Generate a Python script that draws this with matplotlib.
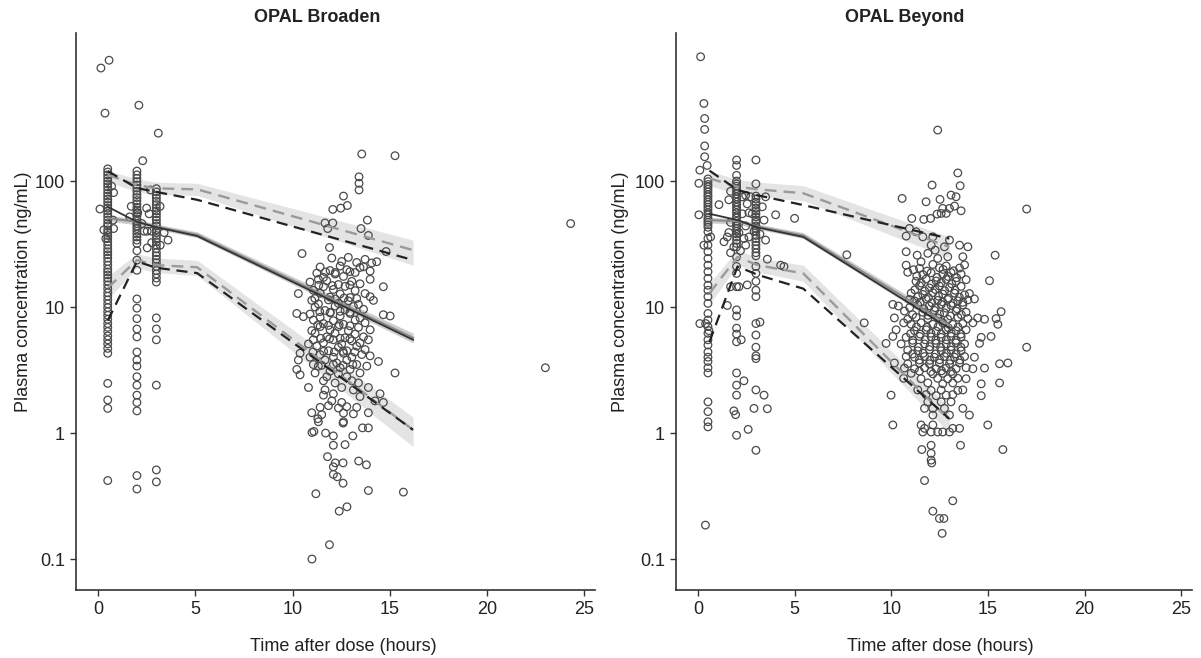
import numpy as np
import matplotlib
matplotlib.use("Agg")
import matplotlib.pyplot as plt

plt.rcParams['font.family'] = ['Liberation Sans', 'DejaVu Sans']

# ---------------- OPAL Broaden : observed concentrations ----------------
bro_col_t = [0.5, 2.0, 3.0]
bro_col05 = [125, 118, 112, 106, 100, 95, 90, 85, 80, 76, 72, 68, 64, 61, 58, 55,
             52, 49, 46, 44, 41, 39, 37, 35, 33, 31, 29, 27.5, 26, 24.5, 23, 21.5,
             20, 19, 18, 17, 16, 15, 14, 13, 12.2, 11.4, 10.6, 9.9, 9.2, 8.6, 8.0,
             7.4, 6.9, 6.4, 5.9, 5.5, 5.1, 4.7, 4.3, 2.48, 1.83, 1.57, 0.42]
bro_col2 = [120, 112, 105, 99, 93, 88, 83, 78, 74, 70, 66, 62, 59, 56, 53, 50, 48,
            46, 44, 42, 40, 38, 36, 34, 32, 28, 23.6, 19.6, 11.6, 9.8, 8.1, 6.7,
            5.8, 4.4, 3.8, 3.4, 2.8, 2.4, 2.0, 1.75, 1.5, 0.46, 0.36]
bro_col3 = [87, 82, 77, 73, 69, 65, 61, 58, 55, 52, 49, 46, 44, 41, 39, 37, 35, 33,
            31, 29, 27, 25.5, 24, 22.5, 21, 19.5, 18.3, 17, 15.8, 8.2, 6.7, 5.5,
            2.4, 0.51, 0.41]
bro_extra_t = [0.15, 0.57, 0.36, 0.1, 0.7, 0.77, 0.3, 0.8, 0.8, 0.4, 2.1, 2.3,
               1.71, 1.63, 2.26, 2.37, 2.04, 2.5, 2.53, 3.1, 3.4, 3.6, 2.7, 2.63,
               3.19, 2.76, 2.53, 2.76, 3.2, 24.3, 23.0]
bro_extra_c = [789, 910, 346, 60, 91, 49, 41, 81, 42, 35, 400, 145,
               63, 52, 46, 40, 56, 61, 40, 240, 39, 34, 85, 55,
               63, 40, 29.5, 32.5, 31, 46, 3.3]
# cloud around 10-16 h: (times, concentrations) per row
bro_cloud_rows = [
    ([13.56, 15.27, 13.42, 13.42, 13.42, 12.62, 12.82, 12.48, 12.07, 13.85],
     [164, 159, 108, 96, 85, 76, 64, 61, 59.6, 49]),
    ([11.67, 12.07, 11.81, 13.52, 13.9, 11.9, 14.81, 10.49, 14.33, 13.65],
     [46.5, 46.5, 42, 42, 37, 29.7, 27.6, 26.6, 22.9, 20.9]),
    ([11.33, 13.99, 10.9, 14.67, 10.3], [16.6, 16.6, 15.8, 14.5, 12.8]),
    ([12.02, 12.53, 12.87, 13.30, 13.73, 14.07], [24.5, 23.0, 24.8, 22.6, 23.9, 22.4]),
    ([11.42, 11.93, 12.45, 12.79, 13.47, 13.99], [20.8, 19.5, 21.2, 19.8, 20.6, 19.3]),
    ([11.7, 12.2, 12.95], [19.0, 18.8, 19.1]),
    ([11.25, 11.59, 12.19, 12.62, 13.22], [18.6, 17.2, 18.3, 17.5, 18.8]),
    ([11.76, 12.36, 13.05, 13.47], [16.2, 15.1, 16.0, 15.3]),
    ([11.35, 12.05, 12.95], [14.9, 14.8, 15.0]),
    ([11.07, 11.59, 12.10, 12.70, 13.22], [13.6, 14.5, 13.8, 14.6, 13.5]),
    ([11.42, 11.93, 12.45, 12.96, 13.73, 13.99], [12.9, 12.0, 12.7, 11.9, 12.8, 12.1]),
    ([11.15, 12.2, 12.65, 13.3], [11.7, 11.6, 11.8, 11.7]),
    ([10.99, 11.33, 11.85, 12.36, 12.87, 13.39, 14.16],
     [11.3, 10.6, 11.4, 10.7, 11.2, 10.5, 11.3]),
    ([11.16, 11.67, 12.19, 12.70, 13.13, 13.65], [10.0, 9.4, 10.2, 9.5, 10.1, 9.6]),
    ([11.4, 11.95, 12.45, 12.95], [9.2, 9.1, 9.25, 9.1]),
    ([10.22, 10.56, 10.90, 11.42, 11.93, 12.45, 12.96, 13.47, 14.67, 15.02],
     [8.9, 8.4, 8.8, 8.3, 9.0, 8.5, 8.9, 8.2, 8.7, 8.5]),
    ([11.07, 11.59, 12.10, 12.62, 13.22, 13.73], [7.9, 7.4, 7.8, 7.3, 7.9, 7.5]),
    ([11.3, 11.85, 12.4, 12.95], [7.2, 7.15, 7.25, 7.1]),
    ([10.99, 11.42, 11.93, 12.36, 12.87, 13.39, 13.99],
     [6.5, 7.0, 6.6, 7.0, 6.5, 6.9, 6.6]),
    ([11.16, 11.76, 12.19, 12.70, 13.22, 13.65], [6.2, 5.8, 6.2, 5.7, 6.1, 5.8]),
    ([11.45, 11.9, 12.45, 12.95], [5.65, 5.6, 5.65, 5.6]),
    ([10.82, 11.07, 11.59, 12.10, 12.53, 13.05, 13.47, 13.90],
     [5.1, 5.5, 5.2, 5.5, 5.1, 5.4, 5.2, 5.5]),
    ([11.25, 11.85, 12.36, 12.79, 13.30, 13.73], [4.9, 4.5, 4.8, 4.5, 4.9, 4.6]),
    ([11.05, 11.6, 12.15, 12.6, 13.2], [4.4, 4.45, 4.4, 4.45, 4.4]),
    ([10.39, 10.90, 11.42, 12.10, 12.62, 13.05, 13.56, 13.99],
     [4.3, 4.0, 4.2, 4.0, 4.3, 4.0, 4.2, 4.1]),
    ([10.30, 11.07, 11.67, 12.27, 12.79, 13.30, 14.42],
     [3.8, 3.5, 3.8, 3.6, 3.8, 3.5, 3.7]),
    ([11.5, 12.1, 12.6, 13.1], [3.45, 3.5, 3.45, 3.5]),
    ([10.22, 11.33, 11.93, 12.45, 12.96, 13.82], [3.2, 3.4, 3.1, 3.3, 3.2, 3.4]),
    ([10.39, 11.16, 11.76, 12.36, 12.79, 13.47, 15.27],
     [2.9, 3.0, 2.8, 2.95, 2.8, 3.0, 3.0]),
    ([11.59, 12.19, 13.05, 13.39], [2.6, 2.5, 2.6, 2.5]),
    ([10.82, 11.67, 12.53, 13.13, 13.90], [2.3, 2.2, 2.3, 2.2, 2.3]),
    ([11.59, 12.10, 13.47, 14.50], [2.0, 2.05, 1.95, 2.05]),
    ([12.02, 12.53, 14.24, 14.67], [1.8, 1.75, 1.8, 1.75]),
    ([11.42, 11.85, 12.36, 12.79, 13.30], [1.6, 1.65, 1.58, 1.62, 1.6]),
    ([10.99, 11.50, 12.62, 13.13, 13.90], [1.45, 1.4, 1.44, 1.42, 1.45]),
    ([11.33, 12.62, 11.3, 12.6, 13.6, 13.9, 11.0, 11.1, 11.7, 12.1, 13.1],
     [1.23, 1.23, 1.3, 1.2, 1.1, 1.1, 1.01, 1.03, 1.0, 0.95, 0.95]),
    ([12.1, 12.7, 11.8, 12.2, 12.6, 13.4, 13.8, 12.1, 12.1, 12.3, 12.6],
     [0.8, 0.81, 0.65, 0.58, 0.58, 0.6, 0.56, 0.54, 0.47, 0.45, 0.40]),
    ([11.2, 13.9, 15.7, 12.8, 12.4, 11.9, 11.0],
     [0.33, 0.35, 0.34, 0.26, 0.24, 0.13, 0.10]),
]

# ---------------- OPAL Broaden : VPC percentiles ----------------
bro_bin_t = [0.5, 2.0, 3.0, 5.1, 16.2]
bro_obs_med = [62.5, 47.5, 43.0, 36.6, 5.5]
bro_obs_p95 = [120, 88, 82, 71, 23.6]
bro_obs_p05 = [7.8, 23.0, 20.5, 18.6, 1.06]
bro_sim_med = [50.8, 47.5, 43.5, 37.5, 5.7]
bro_sim_med_lo = [48.0, 45.0, 41.5, 35.5, 5.2]
bro_sim_med_hi = [53.5, 50.0, 45.5, 39.5, 6.2]
bro_sim_p95 = [112, 93, 87.5, 86, 28.3]
bro_sim_p95_lo = [99, 82, 78, 77, 21.5]
bro_sim_p95_hi = [121, 104, 98, 96, 34]
bro_sim_p05 = [14.2, 23.6, 21.5, 20.7, 1.06]
bro_sim_p05_lo = [11.5, 20.5, 18.8, 17.8, 0.78]
bro_sim_p05_hi = [17.5, 26.5, 24.5, 23.5, 1.34]

# ---------------- OPAL Beyond : observed concentrations ----------------
bey_col_t = [0.52, 2.0, 3.0]
bey_col05 = [104, 99, 94, 90, 86, 82, 78, 75, 71, 68, 65, 62, 59, 56, 54, 51, 49,
             47, 45, 43, 39.6, 35.1, 31.0, 27.5, 24.3, 21.5, 19.1, 16.9, 14.9,
             13.6, 12.1, 10.7, 8.9, 7.9, 7.0, 6.2, 5.5, 5.0, 4.4, 4.0, 3.7, 3.3,
             3.0, 1.77, 1.48, 1.23, 1.12]
bey_col2 = [147, 133, 111, 100, 95, 91, 87, 83, 79, 75, 72, 68, 65, 62, 59, 56, 53,
            51, 48, 46, 44, 42, 40, 38, 36, 34, 32, 30, 25, 21, 18.5, 14.5, 9.5,
            8.5, 6.8, 6.1, 5.3, 3.0, 2.4, 2.0, 0.96]
bey_col3 = [147, 95, 76, 72, 68, 65, 61, 58, 55, 52, 49, 47, 44, 42, 40, 37, 35,
            33, 31, 29, 27, 25.5, 21, 18.5, 16, 13.6, 12.1, 7.4, 6.0, 4.8, 4.1,
            3.9, 2.2, 0.73]
bey_extra_t = [0.14, 0.31, 0.35, 0.35, 0.35, 0.35, 0.48, 0.10, 0.05, 0.05, 1.09,
               0.31, 0.66, 0.10, 0.40, 0.57, 0.39,
               1.69, 1.6, 2.47, 2.55, 2.29, 1.69, 2.47, 2.12, 1.6, 2.64, 1.35,
               1.52, 1.86, 2.47, 1.69, 2.2, 2.38, 2.64, 2.29, 1.69, 2.12, 2.55,
               1.52, 2.24, 2.38, 1.86, 1.95, 2.6, 2.9, 3.42, 3.59,
               3.5, 4.02, 3.59, 4.28, 3.42, 3.33, 3.5, 3.21, 2.81, 2.73, 2.9, 3.21,
               5.0, 4.45, 7.7, 8.6, 17.0, 17.0]
bey_extra_c = [970, 413, 314, 257, 190, 156, 133, 122, 96, 54, 65,
               31, 36, 7.4, 7.4, 6.5, 0.186,
               83, 71, 77, 66, 55, 47, 44, 39, 39, 36, 33,
               36, 30, 31, 27, 28, 35, 56, 75, 14.5, 14.5, 15,
               10.3, 5.5, 2.6, 1.5, 1.4, 1.07, 1.57, 2.0, 1.56,
               34, 54, 24, 21.5, 49, 62.5, 75, 38, 55, 75, 40, 7.6,
               50.6, 21, 26, 7.5, 60, 4.8]
bey_cloud_rows = [
    ([12.40, 13.44, 12.11, 13.56, 10.56, 11.80, 12.52, 13.09, 13.35, 12.66, 13.01],
     [254, 116, 93, 91.8, 72.8, 68.5, 71.5, 77.4, 75.1, 60.7, 60.7]),
    ([13.27, 13.61, 12.37, 12.58, 12.84, 11.06, 12.03, 11.68, 10.94, 11.28, 10.77],
     [63.3, 58.1, 54.7, 55.4, 55.4, 50.5, 50.5, 49.6, 42.1, 39.6, 36.6]),
    ([11.63, 12.15, 13.01, 12.06, 13.53, 12.75, 13.96, 10.77, 11.34, 15.37, 11.89],
     [36.1, 36.1, 34.0, 31.0, 31.0, 30.1, 30.1, 27.5, 25.8, 25.8, 26.7]),
    ([12.27, 12.40, 12.92, 13.70, 11.54], [28.3, 24.3, 25.1, 25.1, 22.9]),
    ([10.77, 11.46, 12.15, 12.49, 12.84, 13.53, 13.79],
     [21.5, 20.3, 21.8, 20.5, 21.2, 20.4, 21.6]),
    ([11.15, 11.85, 12.68, 13.22], [19.8, 19.3, 19.9, 19.4]),
    ([10.85, 11.63, 12.06, 12.66, 13.09, 13.61], [18.9, 18.1, 18.7, 18.2, 18.8, 18.3]),
    ([11.32, 12.36, 12.93, 13.38], [17.6, 17.2, 17.5, 17.1]),
    ([11.28, 11.80, 12.32, 12.84, 13.35, 13.87, 15.08],
     [16.0, 16.7, 16.1, 16.6, 16.0, 16.5, 16.2]),
    ([11.55, 12.08, 12.58, 13.12], [15.5, 15.2, 15.6, 15.3]),
    ([11.46, 11.97, 12.49, 13.01, 13.61], [14.8, 14.2, 14.7, 14.3, 14.6]),
    ([11.22, 11.73, 12.27, 12.76, 13.30], [13.7, 13.4, 13.8, 13.5, 13.6]),
    ([11.03, 11.63, 12.15, 12.66, 13.27, 13.79, 14.04],
     [12.9, 12.6, 13.0, 12.7, 12.9, 12.5, 12.8]),
    ([11.38, 11.92, 12.44, 12.96, 13.52], [12.1, 11.9, 12.2, 11.8, 12.0]),
    ([10.94, 11.20, 11.80, 12.40, 12.92, 13.44, 13.96, 14.30],
     [11.5, 11.2, 11.6, 11.3, 11.5, 11.2, 11.4, 11.6]),
    ([11.5, 12.1, 12.65, 13.2, 13.7], [10.9, 10.8, 11.0, 10.7, 10.9]),
    ([10.08, 10.37, 11.37, 11.97, 12.58, 13.09, 13.70],
     [10.5, 10.2, 10.4, 10.2, 10.5, 10.3, 10.4]),
    ([10.95, 11.68, 12.28, 12.84, 13.4], [9.9, 9.7, 9.9, 9.8, 9.7]),
    ([10.68, 11.63, 12.23, 12.75, 13.35, 13.87, 15.68],
     [9.3, 9.1, 9.4, 9.0, 9.3, 9.1, 9.2]),
    ([11.1, 11.9, 12.5, 13.05, 13.62], [8.7, 8.6, 8.8, 8.5, 8.7]),
    ([10.16, 10.85, 11.28, 11.89, 12.40, 12.92, 13.44, 13.96, 14.47, 14.82, 15.42],
     [8.2, 8.0, 8.3, 8.1, 8.2, 8.0, 8.3, 8.1, 8.2, 8.0, 8.1]),
    ([10.64, 11.03, 11.54, 12.15, 12.66, 13.18, 13.70, 14.22, 15.51],
     [7.5, 7.3, 7.5, 7.3, 7.5, 7.3, 7.4, 7.5, 7.3]),
    ([11.3, 11.85, 12.42, 12.95, 13.45], [6.95, 6.9, 7.0, 6.85, 6.95]),
    ([10.25, 11.20, 11.80, 12.32, 12.84, 13.35, 13.87],
     [6.6, 6.5, 6.6, 6.45, 6.6, 6.5, 6.6]),
    ([11.0, 11.5, 12.05, 12.58, 13.1, 13.6], [6.15, 6.1, 6.2, 6.1, 6.2, 6.1]),
    ([10.08, 10.77, 11.46, 12.06, 12.58, 13.09, 13.61, 14.65, 15.16],
     [5.85, 5.75, 5.85, 5.8, 5.75, 5.85, 5.8, 5.75, 5.85]),
    ([11.1, 11.75, 12.3, 12.85, 13.35], [5.45, 5.5, 5.45, 5.5, 5.45]),
    ([9.73, 10.51, 11.11, 11.72, 12.32, 12.84, 13.35, 13.79, 14.56],
     [5.15, 5.1, 5.2, 5.1, 5.15, 5.1, 5.2, 5.1, 5.15]),
    ([11.4, 12.0, 12.55, 13.1, 13.6], [4.8, 4.85, 4.8, 4.85, 4.8]),
    ([10.85, 11.37, 11.97, 12.58, 13.09, 13.61], [4.55, 4.5, 4.6, 4.5, 4.55, 4.5]),
    ([11.1, 11.65, 12.3, 12.85, 13.35], [4.25, 4.3, 4.25, 4.3, 4.25]),
    ([10.77, 11.20, 11.72, 12.23, 12.75, 13.27, 13.79, 14.30],
     [4.05, 4.0, 4.05, 4.0, 4.05, 4.0, 4.05, 4.0]),
    ([11.45, 12.0, 12.5, 13.05, 13.55], [3.8, 3.78, 3.82, 3.78, 3.8]),
    ([10.16, 10.85, 11.46, 11.97, 12.49, 13.01, 13.53, 15.60, 16.03],
     [3.6, 3.55, 3.6, 3.55, 3.6, 3.55, 3.6, 3.55, 3.6]),
    ([10.68, 11.20, 11.72, 12.32, 12.84, 13.35, 13.87, 14.22, 14.82],
     [3.28, 3.24, 3.3, 3.24, 3.28, 3.24, 3.3, 3.24, 3.28]),
    ([11.45, 12.05, 12.6, 13.1], [3.1, 3.08, 3.12, 3.08]),
    ([11.03, 12.15, 12.66, 13.18], [2.98, 2.95, 2.98, 2.95]),
    ([10.64, 11.54, 12.40, 12.92, 13.44, 13.87], [2.72, 2.7, 2.72, 2.7, 2.72, 2.7]),
    ([11.89, 12.66, 13.18, 14.65, 15.60], [2.5, 2.46, 2.5, 2.46, 2.5]),
    ([11.37, 12.06, 12.58, 13.44, 13.70], [2.2, 2.18, 2.2, 2.18, 2.2]),
    ([9.99, 11.80, 12.32, 12.84, 13.18, 14.65], [2.0, 2.02, 1.98, 2.0, 2.02, 1.98]),
    ([11.89, 12.58, 13.09, 11.72, 12.15, 12.75, 13.70],
     [1.77, 1.77, 1.77, 1.57, 1.57, 1.57, 1.57]),
    ([12.15, 13.01, 14.04, 10.08, 11.54, 12.15, 14.99, 11.72, 13.18, 13.53],
     [1.39, 1.39, 1.39, 1.16, 1.16, 1.16, 1.16, 1.09, 1.09, 1.09]),
    ([11.63, 12.06, 12.40, 12.66, 13.01, 12.06, 13.58, 11.58, 15.77, 12.06],
     [1.02, 1.02, 1.02, 1.02, 1.02, 0.80, 0.80, 0.74, 0.74, 0.69]),
    ([12.06, 12.09, 11.72, 13.18, 12.15, 12.49, 12.72, 12.63],
     [0.61, 0.58, 0.42, 0.29, 0.24, 0.21, 0.21, 0.16]),
]

# ---------------- OPAL Beyond : VPC percentiles ----------------
bey_bin_t = [0.6, 2.05, 3.1, 5.45, 13.0]
bey_obs_med = [55, 49, 42.8, 36, 6.8]
bey_obs_p95 = [121, 85, 77, 64.5, 35]
bey_obs_p05 = [5.3, 21, 18, 14, 1.3]
bey_sim_med = [49, 48, 43.5, 37, 7.2]
bey_sim_med_lo = [46.5, 45.5, 41.5, 35, 6.6]
bey_sim_med_hi = [51.5, 50.5, 45.5, 39, 7.8]
bey_sim_p95 = [105, 90, 86, 80, 30]
bey_sim_p95_lo = [92, 78, 75, 70, 24.5]
bey_sim_p95_hi = [120, 103, 98, 92, 36]
bey_sim_p05 = [12.9, 25, 21.5, 18.5, 1.27]
bey_sim_p05_lo = [10.5, 21.5, 19, 16, 1.0]
bey_sim_p05_hi = [15.5, 28.5, 24.5, 21.5, 1.6]


def panel_points(col_t, cols, extra_t, extra_c, rows):
    t, c = [], []
    for tt, vals in zip(col_t, cols):
        t += [tt] * len(vals)
        c += list(vals)
    t += list(extra_t)
    c += list(extra_c)
    for times, concs in rows:
        t += list(times)
        c += list(concs)
    return np.array(t), np.array(c)


def draw_panel(ax, title, title_x, t, c, bins, obs, sim, bands):
    band_col = '#e4e4e4'
    ax.fill_between(bins, bands[0], bands[1], color=band_col, lw=0, zorder=1)
    ax.fill_between(bins, bands[4], bands[5], color=band_col, lw=0, zorder=1)
    ax.fill_between(bins, bands[2], bands[3], color='#cdcdcd', lw=0, zorder=1)

    ax.scatter(t, c, s=30, facecolors='none', edgecolors='#4a4a4a',
               linewidths=0.9, zorder=2)

    # simulated percentiles (grey)
    ax.plot(bins, sim[0], color='#9a9a9a', lw=1.7, dashes=(5, 3), zorder=3)
    ax.plot(bins, sim[1], color='#8a8a8a', lw=1.5, zorder=3)
    ax.plot(bins, sim[2], color='#9a9a9a', lw=1.7, dashes=(5, 3), zorder=3)
    # observed percentiles (black)
    ax.plot(bins, obs[0], color='#222222', lw=1.6, dashes=(5, 3), zorder=4)
    ax.plot(bins, obs[1], color='#333333', lw=1.3, zorder=4)
    ax.plot(bins, obs[2], color='#222222', lw=1.6, dashes=(5, 3), zorder=4)

    ax.set_yscale('log')
    ax.set_ylim(0.0568, 1496)
    ax.set_xlim(-1.13, 25.55)
    ax.set_yticks([0.1, 1, 10, 100])
    ax.set_yticklabels(['0.1', '1', '10', '100'])
    ax.yaxis.set_minor_locator(matplotlib.ticker.NullLocator())
    ax.set_xticks([0, 5, 10, 15, 20, 25])
    for s in ['top', 'right']:
        ax.spines[s].set_visible(False)
    for s in ['left', 'bottom']:
        ax.spines[s].set_linewidth(1.2)
        ax.spines[s].set_color('#333333')
    ax.tick_params(direction='out', length=4, width=1, colors='#333333',
                   labelsize=13, labelcolor='#222222', pad=4)
    ax.set_xlabel('Time after dose (hours)', fontsize=13, color='#222222')
    ax.set_ylabel('Plasma concentration (ng/mL)', fontsize=13, color='#222222')
    ax.text(title_x, 1.027, title, transform=ax.transAxes, ha='center',
            va='center', fontsize=13, fontweight='bold', color='#222222')


fig = plt.figure(figsize=(12.01, 6.58), dpi=100)
ax1 = fig.add_axes([0.0633, 0.1033, 0.4321, 0.8465])
ax2 = fig.add_axes([0.5629, 0.1033, 0.4296, 0.8465])

t1, c1 = panel_points(bro_col_t, [bro_col05, bro_col2, bro_col3],
                      bro_extra_t, bro_extra_c, bro_cloud_rows)
draw_panel(ax1, 'OPAL Broaden', 0.464, t1, c1, bro_bin_t,
           [bro_obs_p95, bro_obs_med, bro_obs_p05],
           [bro_sim_p95, bro_sim_med, bro_sim_p05],
           [bro_sim_p95_lo, bro_sim_p95_hi, bro_sim_med_lo, bro_sim_med_hi,
            bro_sim_p05_lo, bro_sim_p05_hi])

t2, c2 = panel_points(bey_col_t, [bey_col05, bey_col2, bey_col3],
                      bey_extra_t, bey_extra_c, bey_cloud_rows)
draw_panel(ax2, 'OPAL Beyond', 0.444, t2, c2, bey_bin_t,
           [bey_obs_p95, bey_obs_med, bey_obs_p05],
           [bey_sim_p95, bey_sim_med, bey_sim_p05],
           [bey_sim_p95_lo, bey_sim_p95_hi, bey_sim_med_lo, bey_sim_med_hi,
            bey_sim_p05_lo, bey_sim_p05_hi])

ax1.yaxis.set_label_coords(-0.085, 0.535)
ax2.yaxis.set_label_coords(-0.091, 0.535)
ax1.xaxis.set_label_coords(0.515, -0.086)
ax2.xaxis.set_label_coords(0.513, -0.086)

fig.savefig('out.png', dpi=100)
